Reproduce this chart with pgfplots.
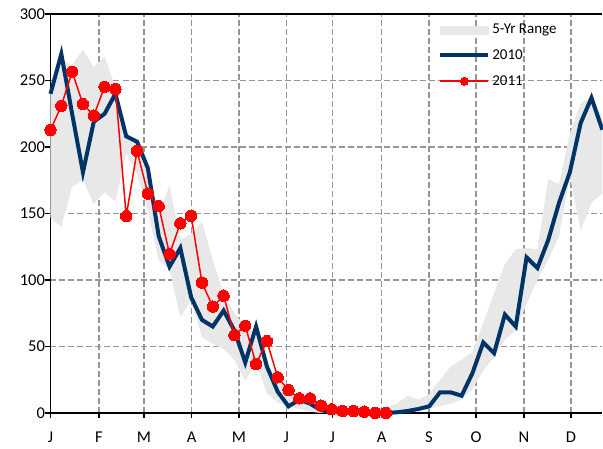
\documentclass[border=0pt]{standalone}
\usepackage{fontspec}
\setmainfont{Carlito}
\usepackage{pgfplots}
\pgfplotsset{compat=1.18}
\usepackage{pgfplotstable}
\usepgfplotslibrary{fillbetween}

\definecolor{navy}{RGB}{0,51,102}
\definecolor{band}{RGB}{232,232,232}
\definecolor{gridgray}{RGB}{150,150,150}

\pgfplotstableread{
wk lo hi y
0 147 242 240
1 140 265 270
2 170 262 225
3 175 273 181
4 157 260 219
5 166 268 225
6 159 245 240
7 195 210 208
8 180 205 204
9 152 185 184
10 115 150 133
11 108 171 110
12 72 130 124
13 85 135 87
14 57 144 70
15 52 115 65
16 48 90 77
17 40 75 62
18 24 65 38
19 38 60 65
20 15 38 35
21 8 25 16
22 5 16 5
23 3 12 10
24 1 9 7
25 0 7 2
26 0 5 1
27 0 4 0.5
28 0 3 0
29 0 3 0
30 0 3 0
31 0 4 0
32 0 7 0.5
33 1 13 1.5
34 2 10 3
35 3 14 5
36 5 25 15.5
37 7 35 15.5
38 10 40 13
39 18 46 30
40 32 68 53
41 42 90 45
42 55 112 74
43 62 123 65
44 82 124 117
45 100 123 109
46 115 176 130
47 133 172 158
48 178 210 181
49 137 233 218
50 158 238 237
51 165 222 213
}\tabA

\pgfplotstableread{
wk y
0 212.8
1 231
2 256.6
3 232.3
4 223.6
5 245.3
6 243.6
7 148
8 197
9 165
10 155.6
11 119.5
12 142.6
13 148.3
14 98
15 80
16 88.2
17 58.6
18 65.6
19 36.8
20 54
21 26.8
22 17.3
23 11
24 11
25 5.5
26 2.8
27 1.5
28 1.5
29 1
30 0
31 0
}\tabB

\begin{document}
\begin{tikzpicture}
\begin{axis}[
  scale only axis,
  width=551.8pt, height=399pt,
  xmin=0, xmax=51, ymin=0, ymax=300,
  axis x line*=box, axis y line*=left,
  xtick pos=left, ytick pos=left,
  xtick={0,4.48,8.64,13.05,17.42,21.8,26.04,30.61,34.98,39.33,43.76,48.1},
  xticklabels={J,F,M,A,M,J,J,A,S,O,N,D},
  ytick={0,50,100,150,200,250,300},
  tick align=outside,
  major tick length=5pt,
  tick style={black, line width=1.2pt},
  grid=major,
  major grid style={gridgray, dash pattern=on 6pt off 3pt, line width=1.4pt},
  axis line style={black, line width=1.6pt},
  ticklabel style={font=\fontsize{16.5}{18}\selectfont},
  xticklabel style={yshift=-10pt},
  yticklabel style={xshift=3pt},
  /pgf/number format/assume math mode=true,
  clip=false,
  legend style={draw=none, fill=none, at={(0.697,0.985)}, anchor=north west,
    font=\fontsize{15}{16}\selectfont, row sep=10.5pt,
    legend cell align=left},
  legend image code/.code={\draw[#1, mark repeat=2, mark phase=2] plot coordinates {(0pt,0pt) (24pt,0pt) (48pt,0pt)};},
  legend image post style={mark size=4pt},
]
\addlegendimage{legend image code/.code={\fill[band] (0pt,-4pt) rectangle (48pt,4pt);}}
\addlegendentry{5-Yr Range}
\addplot[name path=hi, draw=none, forget plot] table[x=wk, y=hi]{\tabA};
\addplot[name path=lo, draw=none, forget plot] table[x=wk, y=lo]{\tabA};
\addplot[band, forget plot] fill between[of=hi and lo];
\addplot[navy, line width=4pt] table[x=wk, y=y]{\tabA};
\addlegendentry{2010}
\addplot[red, line width=1.5pt, mark=*, mark size=5.7pt, mark options={fill=red, draw=red, line width=0pt}] table[x=wk, y=y]{\tabB};
\addlegendentry{2011}
\end{axis}
\pgfresetboundingbox
\path[use as bounding box] (-50.5pt,-36pt) rectangle (552.5pt,413pt);
\end{tikzpicture}
\end{document}
